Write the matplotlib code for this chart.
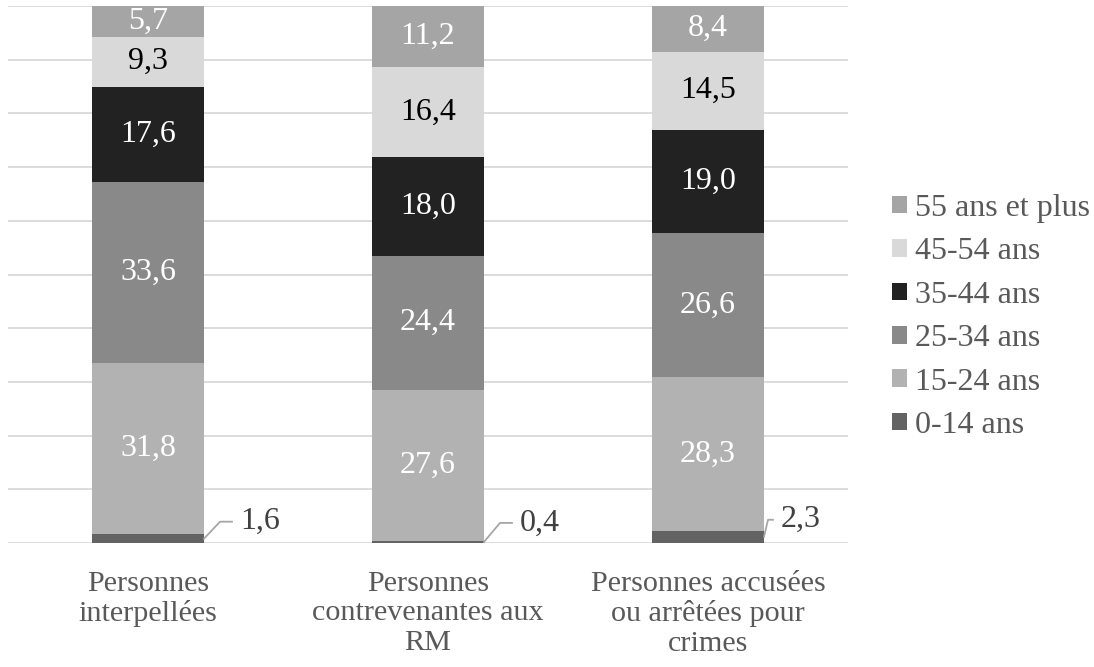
import numpy as np
import matplotlib.pyplot as plt

plt.rcParams['font.family'] = ['Liberation Serif', 'DejaVu Serif']

# Data (percent, as shown in the labels)
groups = ["Personnes\ninterpellées",
          "Personnes\ncontrevenantes aux\nRM",
          "Personnes accusées\nou arrêtées pour\ncrimes"]
age_classes = ["0-14 ans", "15-24 ans", "25-34 ans", "35-44 ans", "45-54 ans", "55 ans et plus"]
v_0_14 = [1.6, 0.4, 2.3]
v_15_24 = [31.8, 27.6, 28.3]
v_25_34 = [33.6, 24.4, 26.6]
v_35_44 = [17.6, 18.0, 19.0]
v_45_54 = [9.3, 16.4, 14.5]
v_55_plus = [5.7, 11.2, 8.4]

colors = ["#636363", "#b2b2b2", "#898989", "#222222", "#d9d9d9", "#a5a5a5"]
label_colors = [None, "white", "white", "white", "black", "white"]

series = np.array([v_0_14, v_15_24, v_25_34, v_35_44, v_45_54, v_55_plus])
totals = series.sum(axis=0)
shares = series / totals * 100  # 100% stacked

fig = plt.figure(figsize=(10.94, 6.67), dpi=100)
ax = fig.add_axes([8 / 1094, 1 - 543 / 667, 840 / 1094, 537 / 667])

x = np.arange(len(groups))
width = 0.4
bottom = np.zeros(len(groups))
for k, name in enumerate(age_classes):
    ax.bar(x, shares[k], width, bottom=bottom, color=colors[k], label=name, zorder=3)
    if label_colors[k] is not None:
        for i in range(len(groups)):
            ax.text(x[i], bottom[i] + shares[k][i] / 2, f"{series[k][i]:.1f}".replace(".", ","),
                    ha="center", va="center", fontsize=23, color=label_colors[k], zorder=4)
    bottom += shares[k]

# leader lines for the smallest class (pixel offsets converted to data units)
px_x = 1 / 280
px_y = 100 / 537
diag_dx = [16, 16, 4]
diag_dy = [17, 19, 17]
flat_dx = [12, 12, 5]
for i in range(len(groups)):
    x0 = x[i] + width / 2
    y0 = shares[0][i] / 2
    x1 = x0 + diag_dx[i] * px_x
    y1 = y0 + diag_dy[i] * px_y
    x2 = x1 + flat_dx[i] * px_x
    ax.plot([x0, x1, x2], [y0, y1, y1], color="#a6a6a6", lw=1.3, zorder=4, clip_on=False)
    ax.text(x2 + 8 * px_x, y1, f"{series[0][i]:.1f}".replace(".", ","),
            ha="left", va="center", fontsize=23, color="#404040")

ax.set_xlim(-0.5, 2.5)
ax.set_ylim(0, 100)
ax.set_yticks(np.arange(0, 101, 10))
ax.yaxis.grid(True, color="#d9d9d9", lw=1.3, zorder=0)
ax.set_yticklabels([])
ax.tick_params(axis="y", length=0)
ax.tick_params(axis="x", length=0, pad=20)
ax.set_xticks(x)
ax.set_xticklabels(groups, fontsize=21.7, color="#595959", linespacing=1.17)
for s in ax.spines.values():
    s.set_visible(False)

handles, labels = ax.get_legend_handles_labels()
fig.legend(handles[::-1], labels[::-1], loc="center left", bbox_to_anchor=(892 / 1094, 1 - 317 / 667),
           frameon=False, fontsize=23, handlelength=0.47, handleheight=0.47, borderpad=0,
           borderaxespad=0, handletextpad=0.25, labelspacing=0.45, labelcolor="#595959")

fig.savefig("out.png", dpi=100)
